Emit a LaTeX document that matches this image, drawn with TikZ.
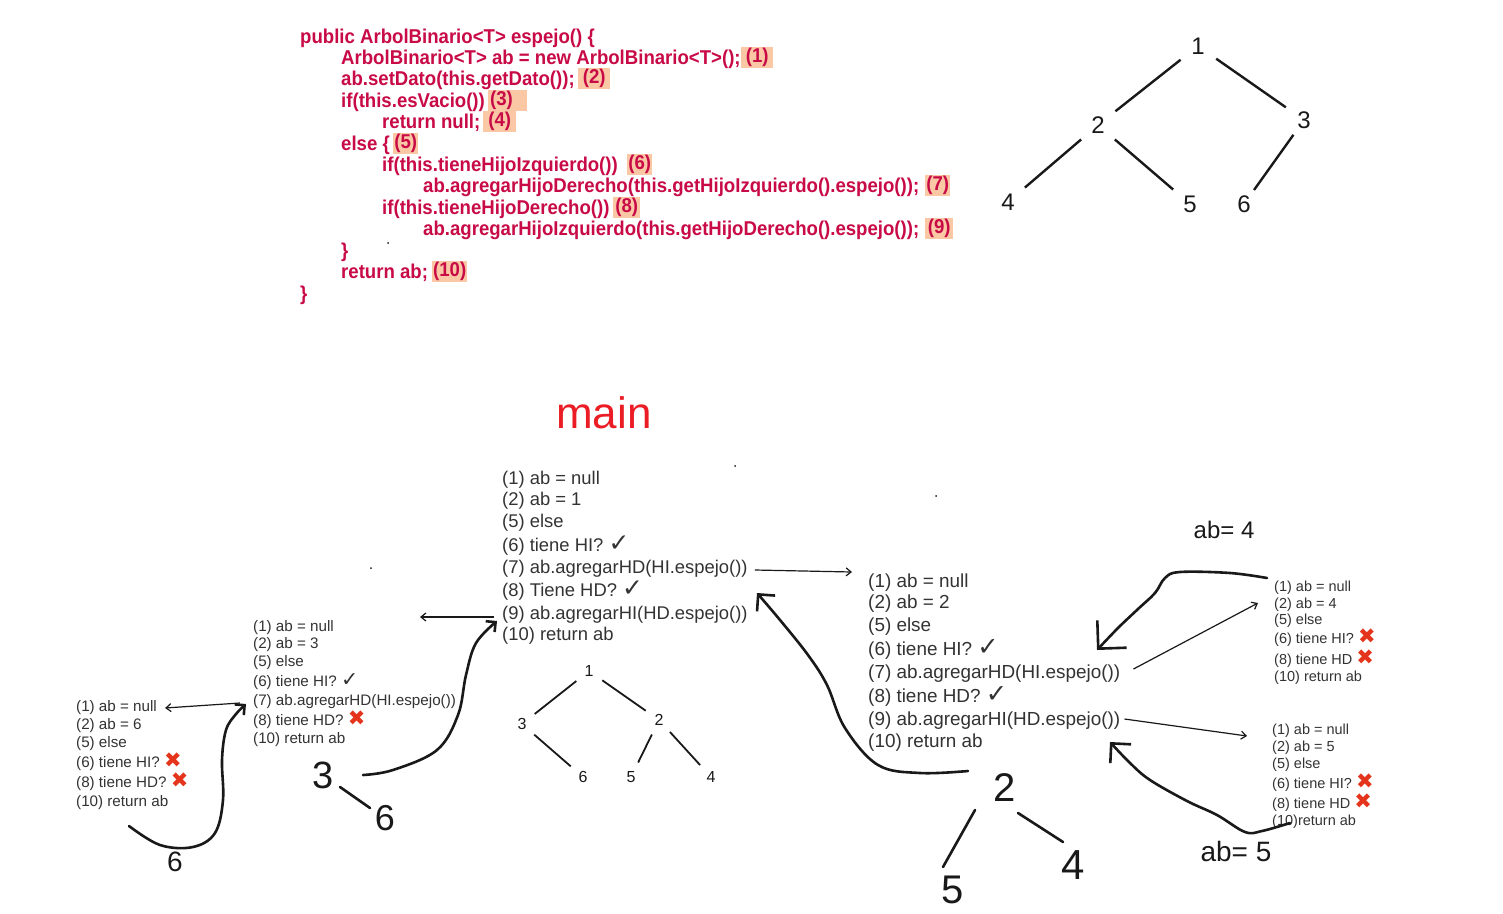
\documentclass[tikz,border=0pt]{standalone}
\usepackage{fontspec}
\usepackage{graphicx}
\setmainfont{Liberation Sans}
\newfontfamily\codefam[FakeStretch=0.93]{Liberation Sans}
\newfontfamily\symfam{DejaVu Sans}
\usetikzlibrary{arrows.meta}
\definecolor{codered}{RGB}{200,10,70}
\definecolor{hl}{RGB}{250,200,165}
\definecolor{txt}{RGB}{51,51,51}
\definecolor{ink}{RGB}{25,25,25}
\definecolor{mainred}{RGB}{235,28,36}
\definecolor{xred}{RGB}{228,52,28}
\newcommand{\chk}{\raisebox{0pt}[0pt][0pt]{\scalebox{1.35}{\symfam\bfseries ✓}}}
\newcommand{\crs}[1][21]{\raisebox{0pt}[0pt][0pt]{\symfam\fontsize{#1}{#1}\selectfont\color{xred}✖}}
\begin{document}
\begin{tikzpicture}[x=1pt,y=-1pt,
  code/.style={anchor=west, inner sep=0pt, yshift=-2pt, text=codered, font=\codefam\bfseries\fontsize{20}{24}\selectfont},
  numbox/.style={code, fill=hl, minimum height=21pt},
  tA/.style={anchor=west, inner sep=0pt, yshift=-2pt, text=txt, font=\fontsize{18.4}{20}\selectfont},
  tB/.style={anchor=west, inner sep=0pt, yshift=-2pt, text=txt, font=\fontsize{18.9}{20}\selectfont},
  tC/.style={anchor=west, inner sep=0pt, yshift=-2pt, text=txt, font=\fontsize{15.2}{17}\selectfont},
  tD/.style={anchor=west, inner sep=0pt, yshift=-2pt, text=txt, font=\fontsize{14.5}{16}\selectfont},
  tnode/.style={circle, inner sep=0pt, minimum size=44pt, text=ink, font=\fontsize{24}{24}\selectfont},
  snode/.style={circle, inner sep=0pt, minimum size=32pt, text=ink, font=\fontsize{16}{16}\selectfont},
  tedge/.style={draw=ink, line width=2.4pt},
  sedge/.style={draw=ink, line width=1.8pt},
  thinarrow/.style={draw=ink, line width=1.2pt, -{Straight Barb[length=5pt,width=8pt]}},
  hand/.style={draw=ink, line width=2.6pt, line cap=round, line join=round},
  handtxt/.style={inner sep=2pt, text=ink},
]
\fill[white] (0,0) rectangle (1503,913);
\useasboundingbox (0,0) rectangle (1503,913);

% ---------- code ----------
\node[code] (k1) at (300,36) {public ArbolBinario<T> espejo() \{};
\node[code] (k2) at (341,57) {ArbolBinario<T> ab = new ArbolBinario<T>();};
\node[code] (k3) at (341,78) {ab.setDato(this.getDato());};
\node[code] (k4) at (341,100) {if(this.esVacio())};
\node[code] (k5) at (382,121) {return null;};
\node[code] (k6) at (341,143) {else \{};
\node[code] (k7) at (382,164) {if(this.tieneHijoIzquierdo())};
\node[code] (k8) at (423,185) {ab.agregarHijoDerecho(this.getHijoIzquierdo().espejo());};
\node[code] (k9) at (382,207) {if(this.tieneHijoDerecho())};
\node[code] (k10) at (423,228) {ab.agregarHijoIzquierdo(this.getHijoDerecho().espejo());};
\node[code] (k11) at (341,250) {\}};
\node[code] (k12) at (341,271) {return ab;};
\node[code] (k13) at (300,293) {\}};

\node[numbox, yshift=2pt, minimum width=32pt] (n1) at (741,57.5) {(1)};
\node[numbox, yshift=2pt, minimum width=32pt] (n2) at (578,78.5) {(2)};
\node[numbox, yshift=2pt, minimum width=39pt, text width=35pt, align=left, inner xsep=2pt] (n3) at (488,100.5) {(3)};
\node[numbox, yshift=2pt, minimum width=33pt] (n4) at (483,121.5) {(4)};
\node[numbox, yshift=2pt, minimum width=25pt] (n5) at (393,143) {(5)};
\node[numbox, yshift=2pt, minimum width=25pt] (n6) at (627,164.5) {(6)};
\node[numbox, yshift=2pt, minimum width=25pt] (n7) at (925,185.5) {(7)};
\node[numbox, yshift=2pt, minimum width=27pt] (n8) at (613,207.5) {(8)};
\node[numbox, yshift=2pt, minimum width=28pt] (n9) at (925,228.5) {(9)};
\node[numbox, yshift=2pt, minimum width=35pt] (n10) at (432,271.5) {(10)};

% ---------- top-right tree ----------
\node[tnode] (t1) at (1198,46) {1};
\node[tnode] (t2) at (1098,125) {2};
\node[tnode] (t3) at (1304,120) {3};
\node[tnode] (t4) at (1008,202) {4};
\node[tnode] (t5) at (1190,204) {5};
\node[tnode] (t6) at (1244,204) {6};
\draw[tedge] (t1) -- (t2);
\draw[tedge] (t1) -- (t3);
\draw[tedge] (t2) -- (t4);
\draw[tedge] (t2) -- (t5);
\draw[tedge, shorten <=-4pt, shorten >=-5pt] (t3) -- (t6);

% ---------- main ----------
\node[text=mainred, font=\fontsize{44}{44}\selectfont, inner sep=0pt] (title) at (604,413) {main};

\node[tA] (m1) at (502,478) {(1) ab = null};
\node[tA] (m2) at (502,499) {(2) ab = 1};
\node[tA] (m5) at (502,521) {(5) else};
\node[tA] (m6) at (502,545) {(6) tiene HI? \chk};
\node[tA] (m7) at (502,567) {(7) ab.agregarHD(HI.espejo())};
\node[tA] (m8) at (502,590) {(8) Tiene HD? \chk};
\node[tA] (m9) at (502,613) {(9) ab.agregarHI(HD.espejo())};
\node[tA] (m10) at (502,634) {(10) return ab};

% ab = 2
\node[tB] (d1) at (868,581) {(1) ab = null};
\node[tB] (d2) at (868,602) {(2) ab = 2};
\node[tB] (d5) at (868,625) {(5) else};
\node[tB] (d6) at (868,649) {(6) tiene HI? \chk};
\node[tB] (d7) at (868,672) {(7) ab.agregarHD(HI.espejo())};
\node[tB] (d8) at (868,696) {(8) tiene HD? \chk};
\node[tB] (d9) at (868,719) {(9) ab.agregarHI(HD.espejo())};
\node[tB] (d10) at (868,741) {(10) return ab};

% ab = 3
\node[tC] (c1) at (253,626) {(1) ab = null};
\node[tC] (c2) at (253,643) {(2) ab = 3};
\node[tC] (c5) at (253,661) {(5) else};
\node[tC] (c6) at (253,681) {(6) tiene HI? \chk};
\node[tC] (c7) at (253,700) {(7) ab.agregarHD(HI.espejo())};
\node[tC] (c8) at (253,720) {(8) tiene HD? \crs};
\node[tC] (c10) at (253,738) {(10) return ab};

% ab = 6
\node[tC] (s1) at (76,706) {(1) ab = null};
\node[tC] (s2) at (76,724) {(2) ab = 6};
\node[tC] (s5) at (76,742) {(5) else};
\node[tC] (s6) at (76,762) {(6) tiene HI? \crs};
\node[tC] (s8) at (76,782) {(8) tiene HD? \crs};
\node[tC] (s10) at (76,801) {(10) return ab};

% ab = 4
\node[tD] (f1) at (1274,586) {(1) ab = null};
\node[tD] (f2) at (1274,603) {(2) ab = 4};
\node[tD] (f5) at (1274,619) {(5) else};
\node[tD] (f6) at (1274,638) {(6) tiene HI? \crs};
\node[tD] (f8) at (1274,659) {(8) tiene HD \crs};
\node[tD] (f10) at (1274,676) {(10) return ab};

% ab = 5
\node[tD] (v1) at (1272,729) {(1) ab = null};
\node[tD] (v2) at (1272,746) {(2) ab = 5};
\node[tD] (v5) at (1272,763) {(5) else};
\node[tD] (v6) at (1272,783) {(6) tiene HI? \crs};
\node[tD] (v8) at (1272,803) {(8) tiene HD \crs};
\node[tD] (v10) at (1272,820) {(10)return ab};

% ---------- small tree ----------
\node[snode] (u1) at (589,671) {1};
\node[snode] (u3) at (522,724) {3};
\node[snode] (u2) at (659,720) {2};
\node[snode] (u6) at (583,777) {6};
\node[snode] (u5) at (631,777) {5};
\node[snode] (u4) at (711,777) {4};
\draw[sedge] (u1) -- (u3);
\draw[sedge] (u1) -- (u2);
\draw[sedge] (u3) -- (u6);
\draw[sedge] (u2) -- (u5);
\draw[sedge] (u2) -- (u4);

% ---------- thin arrows ----------
\coordinate (aL) at (420,617);
\draw[thinarrow] ([xshift=7pt,yshift=-1pt]m7.east) -- ([xshift=-16pt,yshift=11pt]d1.west);
\draw[thinarrow] ([xshift=-8pt,yshift=-2pt]m9.west) -- (aL);
\draw[thinarrow] ([xshift=-13pt,yshift=-1pt]c7.west) -- ([xshift=8pt,yshift=0pt]s1.east);
\draw[thinarrow] ([xshift=13pt,yshift=5pt]d7.east) -- ([xshift=-16pt,yshift=2pt]f2.west);
\draw[thinarrow] ([xshift=4pt,yshift=2pt]d9.east) -- ([xshift=-25pt,yshift=-5pt]v1.west);

% ---------- hand-drawn return arrows ----------
\draw[hand, -{Straight Barb[length=7pt,width=14pt]}] plot[smooth, tension=0.6] coordinates {(129,826) (160,845) (193,847) (215,833) (223,800) (222,760) (226,730) (236,714) (246,704)};
\draw[hand, -{Straight Barb[length=7pt,width=14pt]}] plot[smooth, tension=0.6] coordinates {(363,775) (393,770) (437,750) (458,715) (466,675) (476,643) (497,621)};
\draw[hand, -{Straight Barb[length=12pt,width=24pt]}] plot[smooth, tension=0.6] coordinates {(968,771) (920,773) (878,765) (845,728) (827,685) (808,655) (780,620) (757,593)};
\draw[hand, -{Straight Barb[length=20pt,width=40pt]}] plot[smooth, tension=0.6] coordinates {(1267,578) (1230,573) (1180,572) (1165,578) (1155,593) (1138,609) (1118,628) (1097,650)};
\draw[hand, -{Straight Barb[length=14pt,width=28pt]}] plot[smooth, tension=0.6] coordinates {(1290,823) (1262,831) (1245,832) (1217,815) (1187,801) (1150,780) (1130,763) (1110,742)};

% ---------- handwritten labels ----------
\node[handtxt, font=\fontsize{28}{28}\selectfont] (h6) at (175,862) {6};
\node[handtxt, font=\fontsize{38}{38}\selectfont] (h3) at (323,775) {3};
\node[handtxt, font=\fontsize{36}{36}\selectfont] (h6b) at (385,818) {6};
\node[handtxt, font=\fontsize{40}{40}\selectfont] (h2) at (1005,788) {2};
\node[handtxt, font=\fontsize{40}{40}\selectfont] (h5) at (953,890) {5};
\node[handtxt, font=\fontsize{42}{42}\selectfont] (h4) at (1073,865) {4};
\node[handtxt, font=\fontsize{24}{24}\selectfont] (hab4) at (1224,530) {ab= 4};
\node[handtxt, font=\fontsize{28}{28}\selectfont] (hab5) at (1236,851) {ab= 5};
\draw[hand] ([shift={(17pt,-12pt)}]h3.center) -- ([shift={(-15pt,10pt)}]h6b.center);
\draw[hand] ([shift={(-30pt,-22pt)}]h2.center) -- ([shift={(-10pt,23pt)}]h5.center);
\draw[hand] ([shift={(13pt,-25pt)}]h2.center) -- ([shift={(-10pt,23pt)}]h4.center);

% ---------- stray dots ----------
\fill[ink] (388,243) circle (1pt);
\fill[ink] (735,466) circle (1pt);
\fill[ink] (936,496) circle (1pt);
\fill[ink] (371,568) circle (1pt);
\end{tikzpicture}
\end{document}
